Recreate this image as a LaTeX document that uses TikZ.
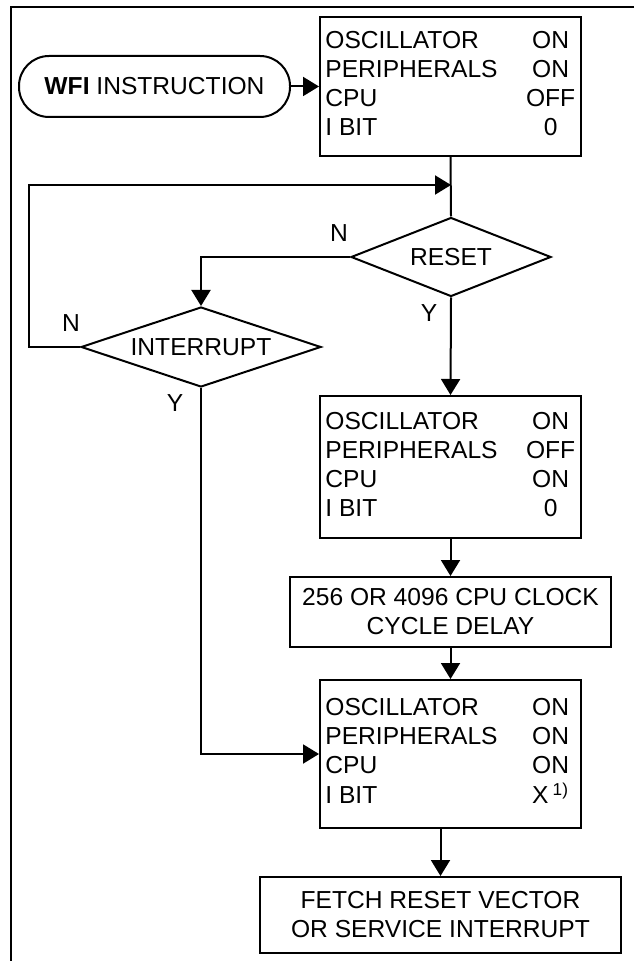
\documentclass[tikz,border=0pt]{standalone}
\usepackage{fontspec}
\setmainfont{Liberation Sans}
\usetikzlibrary{shapes.geometric,arrows.meta}
\newcommand{\val}[1]{\makebox[25pt]{#1}}
\newcommand{\statetab}[4]{\begin{tabular}{@{}l@{\hspace{14pt}}c@{}}
OSCILLATOR & \val{#1}\\ PERIPHERALS & \val{#2}\\ CPU & \val{#3}\\ I BIT & \val{#4}
\end{tabular}}
\begin{document}
\begin{tikzpicture}[x=0.5pt, y=-0.5pt, line width=1pt, line join=miter,
	font=\fontsize{12.3}{14.5}\selectfont, >={Triangle[length=8pt,width=9.5pt]},
	box/.style={draw, rectangle, inner sep=0pt, minimum width=130.5pt},
	dec/.style={draw, diamond, aspect=2.5, inner sep=0pt},
	lbl/.style={inner sep=0pt}]
	\useasboundingbox (0,0) rectangle (634,961);
	\draw (634,7) -- (11,7) -- (11,961);
	% khoi
	\node[draw, rounded corners=15pt, minimum width=135.5pt, minimum height=30.5pt, inner sep=0pt] (wfi) at (154.5,86.5) {\textbf{WFI} INSTRUCTION};
	\node[box, minimum height=69.5pt] (st1) at (450.5,86.5) {\statetab{ON}{ON}{OFF}{0}};
	\node[dec, minimum width=100pt, minimum height=39.5pt] (rst) at (451,257) {RESET};
	\node[dec, minimum width=120pt, minimum height=40pt] (int) at (201,347) {INTERRUPT};
	\node[box, minimum height=71pt] (st2) at (450.5,467) {\statetab{ON}{OFF}{ON}{0}};
	\node[box, minimum width=160.5pt, minimum height=35pt, align=center] (dly) at (450.5,612) {256 OR 4096 CPU CLOCK\\CYCLE DELAY};
	\node[box, minimum height=74pt] (st3) at (450.5,754) {\statetab{ON}{ON}{ON}{X\,\textsuperscript{1)}}};
	\node[box, minimum width=180.5pt, minimum height=38pt, align=center] (fet) at (440.5,915) {FETCH RESET VECTOR\\OR SERVICE INTERRUPT};
	\coordinate (join) at (451,185);
	% nhan
	\node[lbl] (nr) at (339,233) {N};
	\node[lbl] (yr) at (429,313) {Y};
	\node[lbl] (ni) at (71,323) {N};
	\node[lbl] (yi) at (175,403) {Y};
	% mui ten
	\draw[->] (wfi) -- (st1);
	\draw (st1.south) -- (rst.north);
	\draw[->] (rst.west) -| (int.north);
	\draw[->] (int.west) -- ++(-51,0) |- (join);
	\draw[->] (rst.south) -- (st2.north);
	\draw[->] (st2) -- (dly);
	\draw[->] (dly) -- (st3);
	\draw[->] (int.south) |- (st3.west);
	\draw[->] (fet.north |- st3.south) -- (fet.north);
\end{tikzpicture}
\end{document}
